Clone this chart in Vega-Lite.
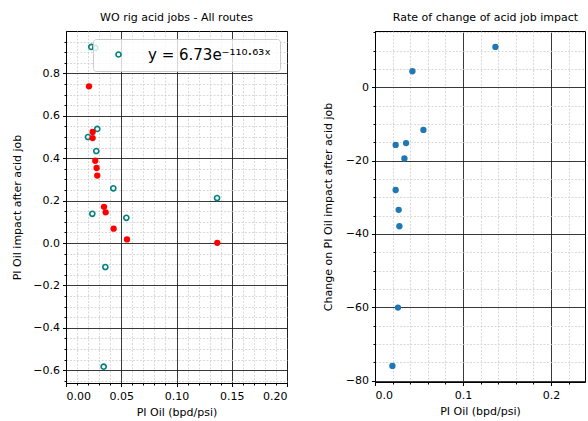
{
  "$schema": "https://vega.github.io/schema/vega-lite/v6.json",
  "padding": {"left": 11, "top": 11, "right": 0, "bottom": 0},
  "background": "white",
  "config": {
    "font": "DejaVu Sans",
    "view": {"stroke": "black", "strokeWidth": 1},
    "axis": {
      "labelFont": "DejaVu Sans", "labelFontSize": 11, "labelColor": "black",
      "titleFont": "DejaVu Sans", "titleFontSize": 11, "titleFontWeight": "normal", "titleColor": "black",
      "domainColor": "black", "tickColor": "black"
    },
    "title": {"font": "DejaVu Sans", "fontSize": 11, "fontWeight": "normal", "color": "black"}
  },
  "datasets": {
    "red": [
      {"pi": 0.0208, "impact": 0.739},
      {"pi": 0.0241, "impact": 0.524},
      {"pi": 0.0241, "impact": 0.495},
      {"pi": 0.0265, "impact": 0.388},
      {"pi": 0.0277, "impact": 0.354},
      {"pi": 0.0283, "impact": 0.318},
      {"pi": 0.0344, "impact": 0.171},
      {"pi": 0.0359, "impact": 0.145},
      {"pi": 0.0431, "impact": 0.068},
      {"pi": 0.0552, "impact": 0.017},
      {"pi": 0.1369, "impact": 0.001}
    ],
    "teal": [
      {"pi": 0.0229, "impact": 0.925, "series": "y = 6.73e⁻¹¹⁰·⁶³ˣ"},
      {"pi": 0.0265, "impact": 0.920, "series": "y = 6.73e⁻¹¹⁰·⁶³ˣ"},
      {"pi": 0.0283, "impact": 0.538, "series": "y = 6.73e⁻¹¹⁰·⁶³ˣ"},
      {"pi": 0.0199, "impact": 0.500, "series": "y = 6.73e⁻¹¹⁰·⁶³ˣ"},
      {"pi": 0.0274, "impact": 0.434, "series": "y = 6.73e⁻¹¹⁰·⁶³ˣ"},
      {"pi": 0.0428, "impact": 0.258, "series": "y = 6.73e⁻¹¹⁰·⁶³ˣ"},
      {"pi": 0.1367, "impact": 0.212, "series": "y = 6.73e⁻¹¹⁰·⁶³ˣ"},
      {"pi": 0.0238, "impact": 0.138, "series": "y = 6.73e⁻¹¹⁰·⁶³ˣ"},
      {"pi": 0.0546, "impact": 0.119, "series": "y = 6.73e⁻¹¹⁰·⁶³ˣ"},
      {"pi": 0.0356, "impact": -0.113, "series": "y = 6.73e⁻¹¹⁰·⁶³ˣ"},
      {"pi": 0.0341, "impact": -0.583, "series": "y = 6.73e⁻¹¹⁰·⁶³ˣ"}
    ],
    "rate": [
      {"pi": 0.1368, "change": 11.05},
      {"pi": 0.0425, "change": 4.42},
      {"pi": 0.0550, "change": -11.6},
      {"pi": 0.0235, "change": -15.7},
      {"pi": 0.0353, "change": -15.2},
      {"pi": 0.0334, "change": -19.4},
      {"pi": 0.0235, "change": -28.0},
      {"pi": 0.0269, "change": -33.4},
      {"pi": 0.0277, "change": -37.9},
      {"pi": 0.0261, "change": -60.1},
      {"pi": 0.0198, "change": -76.0}
    ]
  },
  "resolve": {"scale": {"stroke": "independent"}, "legend": {"stroke": "independent"}},
  "spacing": 33,
  "hconcat": [
    {
      "width": 221,
      "height": 352,
      "title": {"text": "WO rig acid jobs - All routes", "offset": 8},
      "resolve": {"axis": {"x": "independent", "y": "independent"}},
      "layer": [
        {
          "data": {"name": "teal"},
          "mark": {"type": "point", "filled": false, "size": 26, "strokeWidth": 1.6, "opacity": 1},
          "encoding": {
            "x": {"field": "pi", "type": "quantitative", "scale": {"domain": [0, 0.2], "nice": false, "zero": false},
              "axis": {"orient": "bottom", "title": null, "labels": false, "domain": false, "ticks": true, "tickSize": 2,
                "values": [0.01,0.02,0.03,0.04,0.06,0.07,0.08,0.09,0.11,0.12,0.13,0.14,0.16,0.17,0.18,0.19],
                "grid": true, "gridColor": "#cfcfcf", "gridDash": [2, 1.5], "gridWidth": 0.8}},
            "y": {"field": "impact", "type": "quantitative", "scale": {"domain": [-0.66, 1.0], "nice": false, "zero": false},
              "axis": {"orient": "left", "title": null, "labels": false, "domain": false, "ticks": true, "tickSize": 2,
                "values": [-0.65,-0.55,-0.5,-0.45,-0.35,-0.3,-0.25,-0.15,-0.1,-0.05,0.05,0.1,0.15,0.25,0.3,0.35,0.45,0.5,0.55,0.65,0.7,0.75,0.85,0.9,0.95],
                "grid": true, "gridColor": "#cfcfcf", "gridDash": [2, 1.5], "gridWidth": 0.8}},
            "stroke": {"field": "series", "type": "nominal", "scale": {"range": ["teal"]},
              "legend": {"title": null, "orient": "none", "legendX": 27, "legendY": 8,
                "fillColor": "rgba(255,255,255,0.8)", "strokeColor": "#cccccc", "cornerRadius": 3, "padding": 8,
                "symbolOffset": 10, "labelOffset": 22, "labelFontSize": 15, "labelFont": "DejaVu Sans", "labelColor": "black",
                "labelLimit": 300, "symbolSize": 26, "symbolStrokeWidth": 1.6, "symbolType": "circle"}}
          }
        },
        {
          "data": {"name": "red"},
          "mark": {"type": "point", "filled": true, "size": 40, "color": "red", "opacity": 1},
          "encoding": {
            "x": {"field": "pi", "type": "quantitative", "title": "PI Oil (bpd/psi)",
              "axis": {"orient": "bottom", "values": [0, 0.05, 0.1, 0.15, 0.2], "format": ".2f", "tickSize": 3.5,
                "labelPadding": 4, "titlePadding": 5, "grid": true, "gridColor": "#222", "gridWidth": 0.9}},
            "y": {"field": "impact", "type": "quantitative", "title": "PI Oil impact after acid job",
              "axis": {"orient": "left", "values": [-0.6, -0.4, -0.2, 0, 0.2, 0.4, 0.6, 0.8], "format": ".1f", "tickSize": 3.5,
                "labelPadding": 3, "titlePadding": 10, "grid": true, "gridColor": "#222", "gridWidth": 0.9}}
          }
        }
      ]
    },
    {
      "width": 210,
      "height": 351,
      "title": {"text": "Rate of change of acid job impact", "offset": 8, "dx": 5.5},
      "resolve": {"axis": {"x": "independent", "y": "independent"}},
      "data": {"name": "rate"},
      "layer": [
        {
          "mark": {"type": "point", "filled": true, "size": 40, "color": "#1f77b4", "opacity": 0},
          "encoding": {
            "x": {"field": "pi", "type": "quantitative", "scale": {"domain": [0, 0.2386], "nice": false, "zero": false},
              "axis": {"orient": "bottom", "title": null, "labels": false, "domain": false, "ticks": true, "tickSize": 2,
                "values": [0.02,0.04,0.06,0.08,0.12,0.14,0.16,0.18,0.22],
                "grid": true, "gridColor": "#cfcfcf", "gridDash": [2, 1.5], "gridWidth": 0.8}},
            "y": {"field": "change", "type": "quantitative", "scale": {"domain": [-80.4, 15.4], "nice": false, "zero": false},
              "axis": {"orient": "left", "title": null, "labels": false, "domain": false, "ticks": true, "tickSize": 2,
                "values": [-75,-70,-65,-55,-50,-45,-35,-30,-25,-15,-10,-5,5,10,15],
                "grid": true, "gridColor": "#cfcfcf", "gridDash": [2, 1.5], "gridWidth": 0.8}}
          }
        },
        {
          "mark": {"type": "point", "filled": true, "size": 40, "color": "#1f77b4", "opacity": 1},
          "encoding": {
            "x": {"field": "pi", "type": "quantitative", "title": "PI Oil (bpd/psi)",
              "axis": {"orient": "bottom", "values": [0, 0.1, 0.2], "format": ".1f", "tickSize": 3.5,
                "labelPadding": 4, "titlePadding": 5, "grid": true, "gridColor": "#222", "gridWidth": 0.9}},
            "y": {"field": "change", "type": "quantitative", "title": "Change on PI Oil impact after acid job",
              "axis": {"orient": "left", "values": [-80, -60, -40, -20, 0], "format": "d", "tickSize": 3.5,
                "labelPadding": 3, "titlePadding": 12, "grid": true, "gridColor": "#222", "gridWidth": 0.9}}
          }
        }
      ]
    }
  ]
}
